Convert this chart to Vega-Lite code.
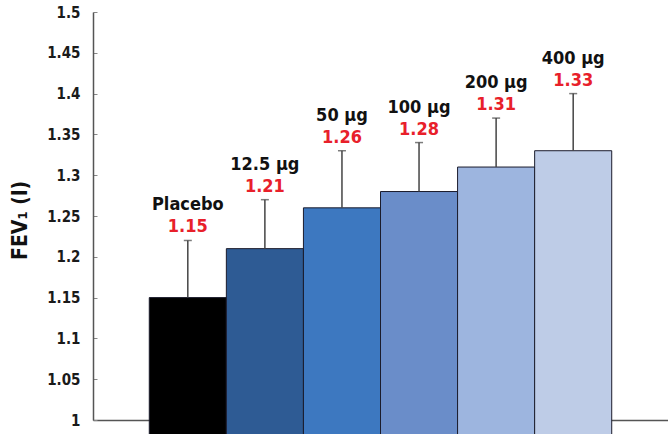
{
  "$schema": "https://vega.github.io/schema/vega-lite/v6.json",
  "autosize": "none",
  "width": 575,
  "height": 408,
  "padding": {"left": 93, "top": 12, "right": 0, "bottom": 14},
  "background": "white",
  "config": {"view": {"stroke": null}},
  "data": {"values": [
    {"dose": "Placebo", "value": 1.15, "hi": 1.22, "lbl": "1.15"},
    {"dose": "12.5 µg", "value": 1.21, "hi": 1.27, "lbl": "1.21"},
    {"dose": "50 µg", "value": 1.26, "hi": 1.33, "lbl": "1.26"},
    {"dose": "100 µg", "value": 1.28, "hi": 1.34, "lbl": "1.28"},
    {"dose": "200 µg", "value": 1.31, "hi": 1.37, "lbl": "1.31"},
    {"dose": "400 µg", "value": 1.33, "hi": 1.40, "lbl": "1.33"}
  ]},
  "encoding": {
    "x": {"field": "dose", "type": "nominal", "sort": null,
      "scale": {"paddingInner": 0, "paddingOuter": 0.73},
      "axis": {"labels": false, "ticks": false, "title": null, "domainColor": "#555", "domainWidth": 1.5}}
  },
  "layer": [
    {
      "mark": {"type": "bar", "stroke": "#1b1c2c", "strokeWidth": 1},
      "encoding": {
        "y": {"field": "value", "type": "quantitative",
          "scale": {"domain": [1, 1.5], "zero": false, "nice": false},
          "axis": {"values": [1, 1.05, 1.1, 1.15, 1.2, 1.25, 1.3, 1.35, 1.4, 1.45, 1.5],
            "grid": false, "title": "FEV₁ (l)", "titleFont": "DejaVu Sans Condensed", "titleFontSize": 21, "titleFontWeight": "bold",
            "titleColor": "#111", "titleAngle": -90, "titleX": -73, "titleY": 208, "titleAlign": "center", "titleBaseline": "middle",
            "labelFont": "DejaVu Sans Condensed", "labelFontSize": 15, "labelFontWeight": "bold", "labelColor": "#1a1a1a", "labelPadding": 17,
            "tickSize": -4, "tickColor": "#888", "domainColor": "#555", "domainWidth": 1.5,
            "labelExpr": "datum.value == 1 ? '1' : format(datum.value, '.2~f')"}},
        "color": {"field": "dose", "type": "nominal", "sort": null, "legend": null,
          "scale": {"range": ["#000000", "#2e5b94", "#3d78c0", "#6a8dc9", "#9db5df", "#becce7"]}}
      }
    },
    {
      "mark": {"type": "rule", "color": "#444", "strokeWidth": 1.5},
      "encoding": {
        "y": {"field": "value", "type": "quantitative"},
        "y2": {"field": "hi"}
      }
    },
    {
      "mark": {"type": "tick", "color": "#444", "size": 8, "thickness": 1.5},
      "encoding": {"y": {"field": "hi", "type": "quantitative"}}
    },
    {
      "mark": {"type": "text", "font": "DejaVu Sans Condensed", "fontSize": 18, "fontWeight": "bold", "color": "#e8202a", "baseline": "alphabetic", "dy": -8},
      "encoding": {"y": {"field": "hi", "type": "quantitative"}, "text": {"field": "lbl"}}
    },
    {
      "mark": {"type": "text", "font": "DejaVu Sans Condensed", "fontSize": 18, "fontWeight": "bold", "color": "#111", "baseline": "alphabetic", "dy": -30},
      "encoding": {"y": {"field": "hi", "type": "quantitative"}, "text": {"field": "dose"}}
    }
  ]
}
